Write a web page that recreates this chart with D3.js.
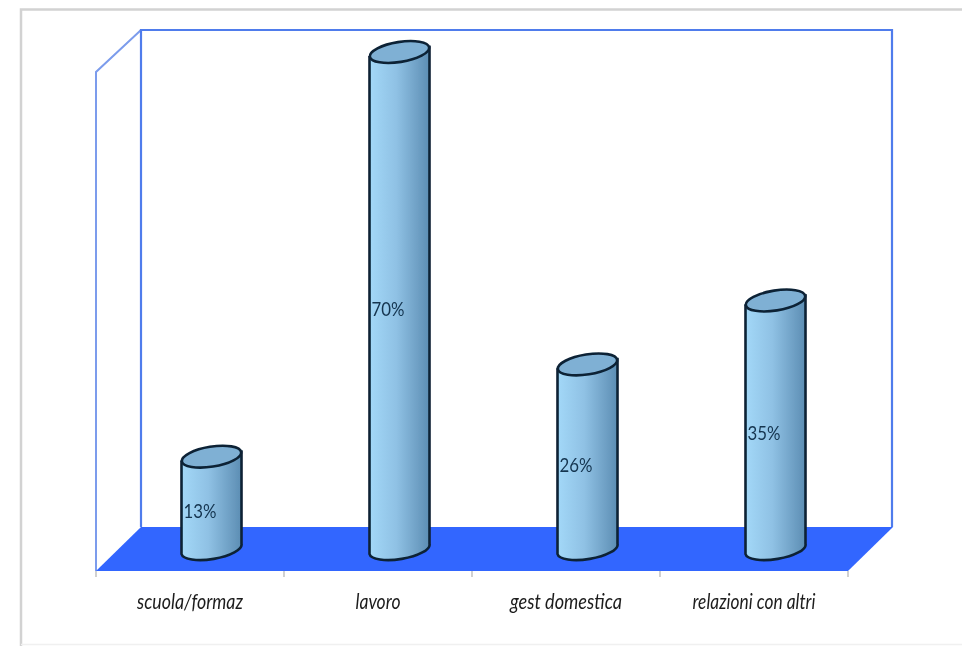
<!DOCTYPE html>
<html>
<head>
<meta charset="utf-8">
<script src="https://cdn.jsdelivr.net/npm/d3@7"></script>
<style>
  html, body { margin: 0; padding: 0; background: #fff; overflow: hidden; }
  text { font-family: Lato, "Open Sans", sans-serif; }
</style>
</head>
<body>
<script>
// data
const categories = ["scuola/formaz", "lavoro", "gest domestica", "relazioni con altri"]
const percentages = [13, 70, 26, 35]

const width = 962
const height = 646

// front edge of the floor, and how far the back wall is pushed away from it
const left = 96, right = 848, floorY = 571
const depthX = 45, depthY = 44
const wallTop = 30

const x = d3.scaleBand().domain(categories).range([left, right])

// base of the cylinders sits in the middle of the floor
const y = d3.scaleLinear()
  .domain([0, 70])
  .range([floorY - 22, 52])

const svg = d3.select("body").append("svg")
  .attr("width", width)
  .attr("height", height)

const defs = svg.append("defs")

let grad = defs.append("linearGradient").attr("id", "side")
grad.append("stop").attr("offset", "0%").attr("stop-color", "#a3d8f8")
grad.append("stop").attr("offset", "45%").attr("stop-color", "#8fc1e4")
grad.append("stop").attr("offset", "100%").attr("stop-color", "#5c8db3")

let soft = defs.append("filter").attr("id", "soft")
soft.append("feGaussianBlur").attr("stdDeviation", 0.7)

// outer picture border
svg.append("path")
  .attr("d", `M${width},9.5H21V${height}`)
  .attr("fill", "none")
  .attr("stroke", "#d2d2d2")
  .attr("stroke-width", 2.5)
svg.append("path")
  .attr("d", `M21,644.5H${width}`)
  .attr("stroke", "#f0f0f0")
  .attr("stroke-width", 1.5)

const plot = svg.append("g").attr("filter", "url(#soft)")

// walls
plot.append("path")
  .attr("d", `M${left},${floorY}V${wallTop + depthY - 2}L${left + depthX},${wallTop}`)
  .attr("fill", "none")
  .attr("stroke", "#7c9cec")
  .attr("stroke-width", 2)
plot.append("path")
  .attr("d", `M${left + depthX},${floorY - depthY}V${wallTop}H${right + depthX - 1}V${floorY - depthY}`)
  .attr("fill", "none")
  .attr("stroke", "#4f7bec")
  .attr("stroke-width", 2.2)

// floor
plot.append("path")
  .attr("d", `M${left},${floorY}L${left + depthX},${floorY - depthY}`
    + `H${right + depthX}L${right},${floorY}Z`)
  .attr("fill", "#3366ff")

// ticks between the categories
plot.selectAll(".tick-mark")
  .data(d3.range(categories.length + 1))
  .enter().append("line")
  .attr("class", "tick-mark")
  .attr("x1", i => left + i * x.step())
  .attr("x2", i => left + i * x.step())
  .attr("y1", floorY)
  .attr("y2", floorY + 6)
  .attr("stroke", "#bdbdbd")
  .attr("stroke-width", 1.4)

// cylinders
const rx = 30, ry = 10, tilt = 5, angle = -9
const cx = d => x(d) + x.bandwidth() / 2 + depthX / 2 - 1

const bars = plot.selectAll(".bar")
  .data(categories.map((c, i) => ({ name: c, value: percentages[i] })))
  .enter().append("g")
  .attr("class", "bar")

bars.append("path")
  .attr("d", d => {
    let c = cx(d.name)
    return `M${c - rx},${y(d.value) + tilt}V${y(0) + tilt}`
      + `A${rx},${ry} ${angle} 0 0 ${c + rx},${y(0) - tilt}`
      + `V${y(d.value) - tilt}Z`
  })
  .attr("fill", "url(#side)")
  .attr("stroke", "#0b2236")
  .attr("stroke-width", 2.6)

bars.append("ellipse")
  .attr("cx", d => cx(d.name))
  .attr("cy", d => y(d.value))
  .attr("rx", rx)
  .attr("ry", ry)
  .attr("transform", d => `rotate(${angle} ${cx(d.name)} ${y(d.value)})`)
  .attr("fill", "#7fb0d4")
  .attr("stroke", "#0b2236")
  .attr("stroke-width", 2.6)

// value labels, halfway up each cylinder
bars.append("text")
  .attr("x", d => cx(d.name) - 28)
  .attr("y", d => (y(d.value) + y(0)) / 2 + 15)
  .attr("font-size", 19)
  .attr("fill", "#14344f")
  .attr("textLength", 33)
  .attr("lengthAdjust", "spacingAndGlyphs")
  .text(d => d.value + "%")

// category labels
plot.selectAll(".cat")
  .data(categories)
  .enter().append("text")
  .attr("class", "cat")
  .attr("x", d => x(d) + x.bandwidth() / 2)
  .attr("y", 609)
  .attr("text-anchor", "middle")
  .attr("font-size", 21)
  .attr("font-style", "italic")
  .attr("fill", "#1c1c1c")
  .attr("textLength", d => ({ "scuola/formaz": 106, "lavoro": 45, "gest domestica": 112, "relazioni con altri": 123 })[d])
  .attr("lengthAdjust", "spacingAndGlyphs")
  .text(d => d)
</script>
</body>
</html>
